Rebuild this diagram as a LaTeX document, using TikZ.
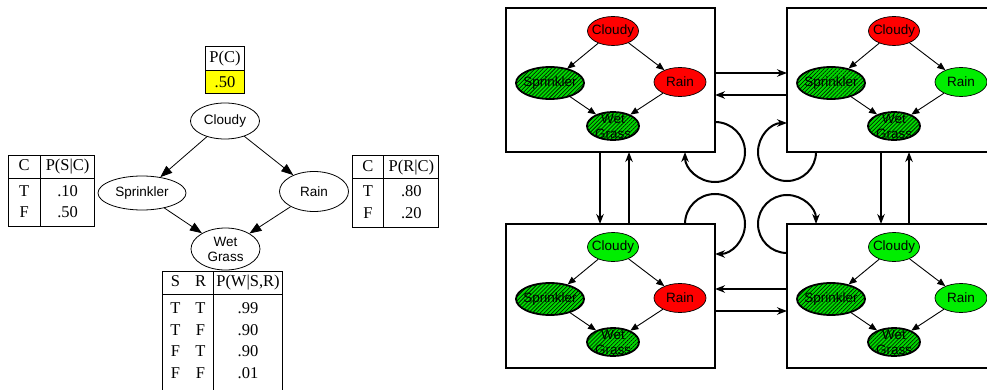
\documentclass[tikz,border=0pt]{standalone}
\usepackage{fontspec}
\setmainfont{Liberation Serif}
\setsansfont{Liberation Sans}
\usepackage{array}
\usepackage{xcolor}
\definecolor{stateRed}{HTML}{FF0000}
\definecolor{stateGreen}{HTML}{00EE00}
\definecolor{obsGreen}{HTML}{00D800}
\definecolor{cptYellow}{HTML}{FFFF00}
\usetikzlibrary{positioning,calc,arrows.meta,shapes.geometric,patterns.meta}
\setlength{\tabcolsep}{0pt}
\setlength{\arrayrulewidth}{1pt}
\tikzset{%
  bnVar/.style={%
    ellipse,
    draw,
    line width=0.8pt,
    inner sep=0pt,
    minimum width=69pt,
    minimum height=36pt,
    align=center,
    font=\sffamily\fontsize{13.5}{15}\selectfont
  },
  bnArrow/.style={%
    -{Triangle[length=12pt,width=9pt]},
    line width=0.8pt
  },
  cpt/.style={%
    draw,
    line width=1pt,
    inner sep=0pt,
    font=\fontsize{16.5}{21.5}\selectfont
  },
  cptHead/.style={%
    draw,
    line width=1pt,
    inner sep=0pt,
    outer sep=0pt,
    minimum width=39pt,
    minimum height=24pt,
    font=\fontsize{16.5}{21.5}\selectfont
  },
  cptVal/.style={%
    cptHead,
    minimum height=23pt,
    fill=cptYellow
  },
  stateBox/.style={%
    rectangle,
    draw,
    line width=1.3pt,
    inner sep=0pt,
    outer sep=0pt,
    minimum width=209pt,
    minimum height=144pt
  },
  smallVar/.style={%
    ellipse,
    draw,
    line width=0.7pt,
    inner xsep=-8pt,
    inner ysep=-6pt,
    minimum width=52pt,
    minimum height=29pt,
    align=center,
    font=\sffamily\fontsize{13.5}{15}\selectfont
  },
  obsVar/.style={%
    smallVar,
    line width=1.8pt,
    preaction={fill=obsGreen},
    pattern={Lines[angle=45,distance=2.8pt,line width=0.55pt]}
  },
  smallArrow/.style={%
    -{Triangle[length=8pt,width=6.5pt]},
    line width=0.9pt
  },
  moveArrow/.style={%
    -{Stealth[length=10pt,width=7.5pt]},
    line width=2pt
  }
}

\begin{document}
\begin{tikzpicture}[x=1pt,y=-1pt]
  \useasboundingbox (0,0) rectangle (987,390);

  % sprinkler network with its tables
  \node[bnVar] (cloudy) at (225,121) {Cloudy};
  \node[bnVar, minimum width=88pt, minimum height=34pt] (sprinkler) at (142,193) {Sprinkler};
  \node[bnVar, minimum height=40pt] (rain) at (314,191.5) {Rain};
  \node[bnVar, minimum height=42pt] (wet) at (225.5,249) {Wet\\Grass};

  \node[cptVal, above=9pt of cloudy] (pcv) {.50};
  \node[cptHead, above=0pt of pcv] (pc) {P(C)};
  \node[cpt, left=3pt of sprinkler, yshift=2pt] (cps) {%
    \begin{tabular}{wc{32pt}|wc{53pt}}
      \rule[-7pt]{0pt}{21pt}C & P(S|C)\\ \hline
      \rule{0pt}{17.5pt}T & .10\\
      \rule[-9pt]{0pt}{0pt}F & .50
    \end{tabular}};
  \node[cpt, right=3pt of rain] (cpr) {%
    \begin{tabular}{wc{31pt}|wc{54pt}}
      \rule[-7pt]{0pt}{21pt}C & P(R|C)\\ \hline
      \rule{0pt}{17.5pt}T & .80\\
      \rule[-9pt]{0pt}{0pt}F & .20
    \end{tabular}};
  \node[cpt, below=1pt of wet, xshift=-3pt] (cpw) {%
    \begin{tabular}{wc{26pt}wc{24pt}|wc{69pt}}
      \rule[-7pt]{0pt}{18.5pt}S & R & P(W|S,R)\\ \hline
      \rule{0pt}{19pt}T & T & .99\\
      T & F & .90\\
      F & T & .90\\
      \rule[-14pt]{0pt}{0pt}F & F & .01
    \end{tabular}};

  \draw[bnArrow] (cloudy) -- (sprinkler);
  \draw[bnArrow] (cloudy) -- (rain);
  \draw[bnArrow] (sprinkler) -- (wet);
  \draw[bnArrow] (rain) -- (wet);

  % the four states of the chain
  \foreach \sn/\px/\py/\cc/\rc in {tl/610.5/80/stateRed/stateRed,
      tr/891.5/80/stateRed/stateGreen, bl/610.5/296/stateGreen/stateRed,
      br/891.5/296/stateGreen/stateGreen}{
    \node[stateBox] (\sn) at (\px,\py) {};
    \node[smallVar, fill=\cc, minimum width=51pt] (\sn-c) at ($(\sn.north west)+(107,23)$) {Cloudy};
    \node[obsVar, minimum width=68pt, minimum height=32pt] (\sn-s) at ($(\sn.north west)+(44,75)$) {Sprinkler};
    \node[smallVar, fill=\rc] (\sn-r) at ($(\sn.north west)+(174,74)$) {Rain};
    \node[obsVar, minimum height=28pt] (\sn-w) at ($(\sn.north west)+(107,118)$) {Wet\\Grass};
    \draw[smallArrow] (\sn-c) -- (\sn-s);
    \draw[smallArrow] (\sn-c) -- (\sn-r);
    \draw[smallArrow] (\sn-s) -- (\sn-w);
    \draw[smallArrow] (\sn-r) -- (\sn-w);
  }

  % moves between states
  \draw[moveArrow] ($(tl.east)+(0,-7)$) -- ($(tr.west)+(0,-7)$);
  \draw[moveArrow] ($(tr.west)+(0,15)$) -- ($(tl.east)+(0,15)$);
  \draw[moveArrow] ($(br.west)+(0,-7)$) -- ($(bl.east)+(0,-7)$);
  \draw[moveArrow] ($(bl.east)+(0,15)$) -- ($(br.west)+(0,15)$);
  \draw[moveArrow] ($(tl.south)+(-10.5,0)$) -- ($(bl.north)+(-10.5,0)$);
  \draw[moveArrow] ($(bl.north)+(18.5,0)$) -- ($(tl.south)+(18.5,0)$);
  \draw[moveArrow] ($(tr.south)+(-10.5,0)$) -- ($(br.north)+(-10.5,0)$);
  \draw[moveArrow] ($(br.north)+(17.5,0)$) -- ($(tr.south)+(17.5,0)$);

  % staying in the same state
  \draw[moveArrow] ($(tl.south east)+(0,-30)$) arc[start angle=-90, end angle=180, radius=30];
  \draw[moveArrow] ($(tr.south west)+(29,0)$) arc[start angle=0, end angle=270, radius=29];
  \draw[moveArrow] ($(bl.north east)+(-30,0)$) arc[start angle=180, end angle=450, radius=30];
  \draw[moveArrow] ($(br.north west)+(0,29)$) arc[start angle=90, end angle=360, radius=29];
\end{tikzpicture}
\end{document}
